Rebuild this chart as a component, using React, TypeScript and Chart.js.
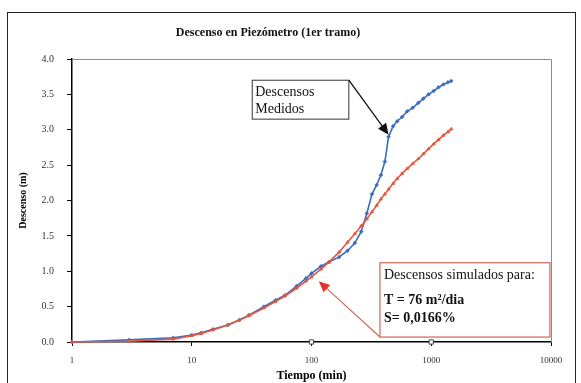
import React, { useEffect, useRef } from "react";
import { Chart, registerables } from "chart.js";
Chart.register(...registerables);

// ---- data ----
const tiempo = [1, 3, 7, 10, 12, 15, 20, 25, 30, 40, 50, 60, 75, 90, 100, 120, 140, 170, 200, 230, 260, 290, 320, 350, 380, 410, 440, 480, 520, 570, 630, 700, 780, 860, 950, 1050, 1150, 1260, 1380, 1470];
const medidos = [0, 0.03, 0.06, 0.1, 0.13, 0.18, 0.24, 0.31, 0.38, 0.5, 0.59, 0.66, 0.79, 0.9, 0.97, 1.07, 1.13, 1.2, 1.29, 1.4, 1.56, 1.82, 2.09, 2.22, 2.36, 2.55, 2.9, 3.05, 3.12, 3.18, 3.26, 3.31, 3.38, 3.44, 3.5, 3.55, 3.6, 3.64, 3.67, 3.69];
const simulados = [0, 0.01, 0.04, 0.09, 0.12, 0.17, 0.24, 0.31, 0.37, 0.48, 0.57, 0.65, 0.76, 0.86, 0.92, 1.03, 1.13, 1.27, 1.41, 1.53, 1.64, 1.74, 1.84, 1.93, 2.02, 2.09, 2.16, 2.24, 2.31, 2.38, 2.45, 2.52, 2.59, 2.66, 2.73, 2.8, 2.86, 2.92, 2.97, 3.01];
const marcasTiempo = [100, 1000];
const marcasValor = [0, 0];
const xTicks = [1, 10, 100, 1000, 10000];

const titulo = "Descenso en Piezómetro (1er tramo)";
const tituloX = "Tiempo (min)";
const tituloY = "Descenso (m)";
const notaMedidos = ["Descensos", "Medidos"];
const notaSimulados = ["Descensos simulados para:", "T = 76 m²/dia", "S= 0,0166%"];

const SERIF = "'Liberation Serif', 'DejaVu Serif', serif";
const AZUL = "#3a6cc2";
const ROJO = "#e6553d";
const ROJO_CAJA = "#d0665a";
const ROJO_FLECHA = "#e2342c";

function flecha(ctx: CanvasRenderingContext2D, x0: number, y0: number, x1: number, y1: number, lineColor: string, headColor: string, lw: number) {
  const ang = Math.atan2(y1 - y0, x1 - x0);
  const L = 11, W = 5;
  ctx.strokeStyle = lineColor;
  ctx.lineWidth = lw;
  ctx.beginPath();
  ctx.moveTo(x0, y0);
  ctx.lineTo(x1 - Math.cos(ang) * L * 0.8, y1 - Math.sin(ang) * L * 0.8);
  ctx.stroke();
  ctx.fillStyle = headColor;
  ctx.beginPath();
  ctx.moveTo(x1, y1);
  ctx.lineTo(x1 - Math.cos(ang) * L - Math.sin(ang) * W, y1 - Math.sin(ang) * L + Math.cos(ang) * W);
  ctx.lineTo(x1 - Math.cos(ang) * L + Math.sin(ang) * W, y1 - Math.sin(ang) * L - Math.cos(ang) * W);
  ctx.closePath();
  ctx.fill();
}

const notas = {
  id: "notas",
  beforeDatasetsDraw(chart: any) {
    const { ctx, chartArea } = chart;
    ctx.save();
    ctx.strokeStyle = "#8c8c8c";
    ctx.lineWidth = 1;
    ctx.beginPath();
    ctx.moveTo(chartArea.left, chartArea.top + 0.5);
    ctx.lineTo(chartArea.right + 0.5, chartArea.top + 0.5);
    ctx.lineTo(chartArea.right + 0.5, chartArea.bottom);
    ctx.stroke();
    ctx.restore();
  },
  afterDraw(chart: any) {
    const { ctx, scales } = chart;
    const px = (t: number) => scales.x.getPixelForValue(t);
    const py = (v: number) => scales.y.getPixelForValue(v);
    ctx.save();
    // title
    ctx.fillStyle = "#111";
    ctx.font = `bold 12px ${SERIF}`;
    ctx.textAlign = "center";
    ctx.textBaseline = "middle";
    ctx.fillText(titulo, 268, 33);

    // measured note box
    const bx0 = px(32), by0 = py(3.7), bx1 = px(205), by1 = py(3.15);
    ctx.fillStyle = "#fff";
    ctx.fillRect(bx0, by0, bx1 - bx0, by1 - by0);
    ctx.strokeStyle = "#333";
    ctx.lineWidth = 1;
    ctx.strokeRect(bx0, by0, bx1 - bx0, by1 - by0);
    ctx.fillStyle = "#111";
    ctx.font = `14px ${SERIF}`;
    ctx.textAlign = "left";
    ctx.textBaseline = "middle";
    ctx.fillText(notaMedidos[0], bx0 + 3, by0 + 12);
    ctx.fillText(notaMedidos[1], bx0 + 3, by0 + 29);
    const k = tiempo.indexOf(440);
    flecha(ctx, bx1, by0, px(tiempo[k]), py(medidos[k] + 0.03), "#111", "#111", 1.3);

    // simulated note box
    const rx0 = px(373), ry0 = py(1.12), rx1 = px(9800), ry1 = py(0.07);
    ctx.fillStyle = "#fff";
    ctx.fillRect(rx0, ry0, rx1 - rx0, ry1 - ry0);
    ctx.strokeStyle = ROJO_CAJA;
    ctx.lineWidth = 1.2;
    ctx.strokeRect(rx0, ry0, rx1 - rx0, ry1 - ry0);
    ctx.fillStyle = "#111";
    ctx.font = `14px ${SERIF}`;
    ctx.fillText(notaSimulados[0], rx0 + 4, ry0 + 13);
    ctx.font = `bold 14px ${SERIF}`;
    ctx.fillText(notaSimulados[1], rx0 + 4, ry0 + 38);
    ctx.fillText(notaSimulados[2], rx0 + 4, ry0 + 56);
    flecha(ctx, rx0, ry1, px(115), py(0.86), ROJO_CAJA, ROJO_FLECHA, 1.2);
    ctx.restore();
  },
};

export default function App() {
  const ref = useRef<HTMLCanvasElement>(null);
  useEffect(() => {
    const chart = new Chart(ref.current!, {
      type: "line",
      data: {
        datasets: [
          {
            label: "marcas",
            data: marcasTiempo.map((t, i) => ({ x: t, y: marcasValor[i] })),
            showLine: false,
            pointStyle: "rect",
            pointRadius: 3,
            backgroundColor: "#fff",
            borderColor: "#444",
            pointBorderWidth: 1,
            clip: false,
            order: 0,
          },
          {
            label: "Simulados",
            data: tiempo.map((t, i) => ({ x: t, y: simulados[i] })),
            borderColor: ROJO,
            backgroundColor: ROJO,
            borderWidth: 1.6,
            pointStyle: "triangle",
            pointRadius: 1.8,
            pointBorderWidth: 0.8,
            tension: 0,
            clip: false,
            order: 1,
          },
          {
            label: "Medidos",
            data: tiempo.map((t, i) => ({ x: t, y: medidos[i] })),
            borderColor: AZUL,
            backgroundColor: AZUL,
            borderWidth: 1.6,
            pointStyle: "rectRot",
            pointRadius: 1.8,
            pointBorderWidth: 0.8,
            tension: 0,
            clip: false,
            order: 2,
          },
        ],
      },
      options: {
        responsive: false,
        animation: false,
        layout: { padding: { left: 0, right: 30, top: 59, bottom: 0 } },
        plugins: { legend: { display: false }, tooltip: { enabled: false }, title: { display: false } },
        scales: {
          x: {
            type: "logarithmic",
            min: 1,
            max: 10000,
            afterBuildTicks: (s: any) => {
              s.ticks = xTicks.map((v) => ({ value: v }));
            },
            afterFit: (s: any) => {
              s.height = 41;
            },
            ticks: {
              callback: (v: any) => String(v),
              font: { family: SERIF, size: 9 },
              color: "#333",
              padding: 9,
              maxRotation: 0,
              autoSkip: false,
            },
            grid: { drawOnChartArea: false, tickLength: 4, color: "#000" },
            border: { color: "#000", width: 1.5 },
            title: {
              display: true,
              text: tituloX,
              font: { family: SERIF, size: 12, weight: "bold" },
              color: "#000",
              padding: { top: 0, bottom: 0 },
            },
          },
          y: {
            min: 0,
            max: 4,
            afterFit: (s: any) => {
              s.width = 72;
            },
            ticks: {
              stepSize: 0.5,
              callback: (v: any) => Number(v).toFixed(1),
              font: { family: SERIF, size: 10 },
              color: "#333",
              padding: 13,
            },
            grid: { drawOnChartArea: false, tickLength: 5, color: "#000" },
            border: { color: "#000", width: 1.5 },
            title: {
              display: true,
              text: tituloY,
              font: { family: SERIF, size: 10, weight: "bold" },
              color: "#000",
              padding: { top: 17, bottom: 0 },
            },
          },
        },
      },
      plugins: [notas],
    } as any);
    return () => chart.destroy();
  }, []);

  return (
    <div style={{ position: "fixed", left: 0, top: 0, width: 581, height: 383, background: "#fff", overflow: "hidden" }}>
      <canvas ref={ref} width={581} height={383} style={{ position: "absolute", left: 0, top: 0 }} />
      <div
        style={{
          position: "absolute",
          left: 7,
          top: 12,
          width: 567,
          height: 380,
          border: "1.5px solid #222",
          pointerEvents: "none",
        }}
      />
    </div>
  );
}
